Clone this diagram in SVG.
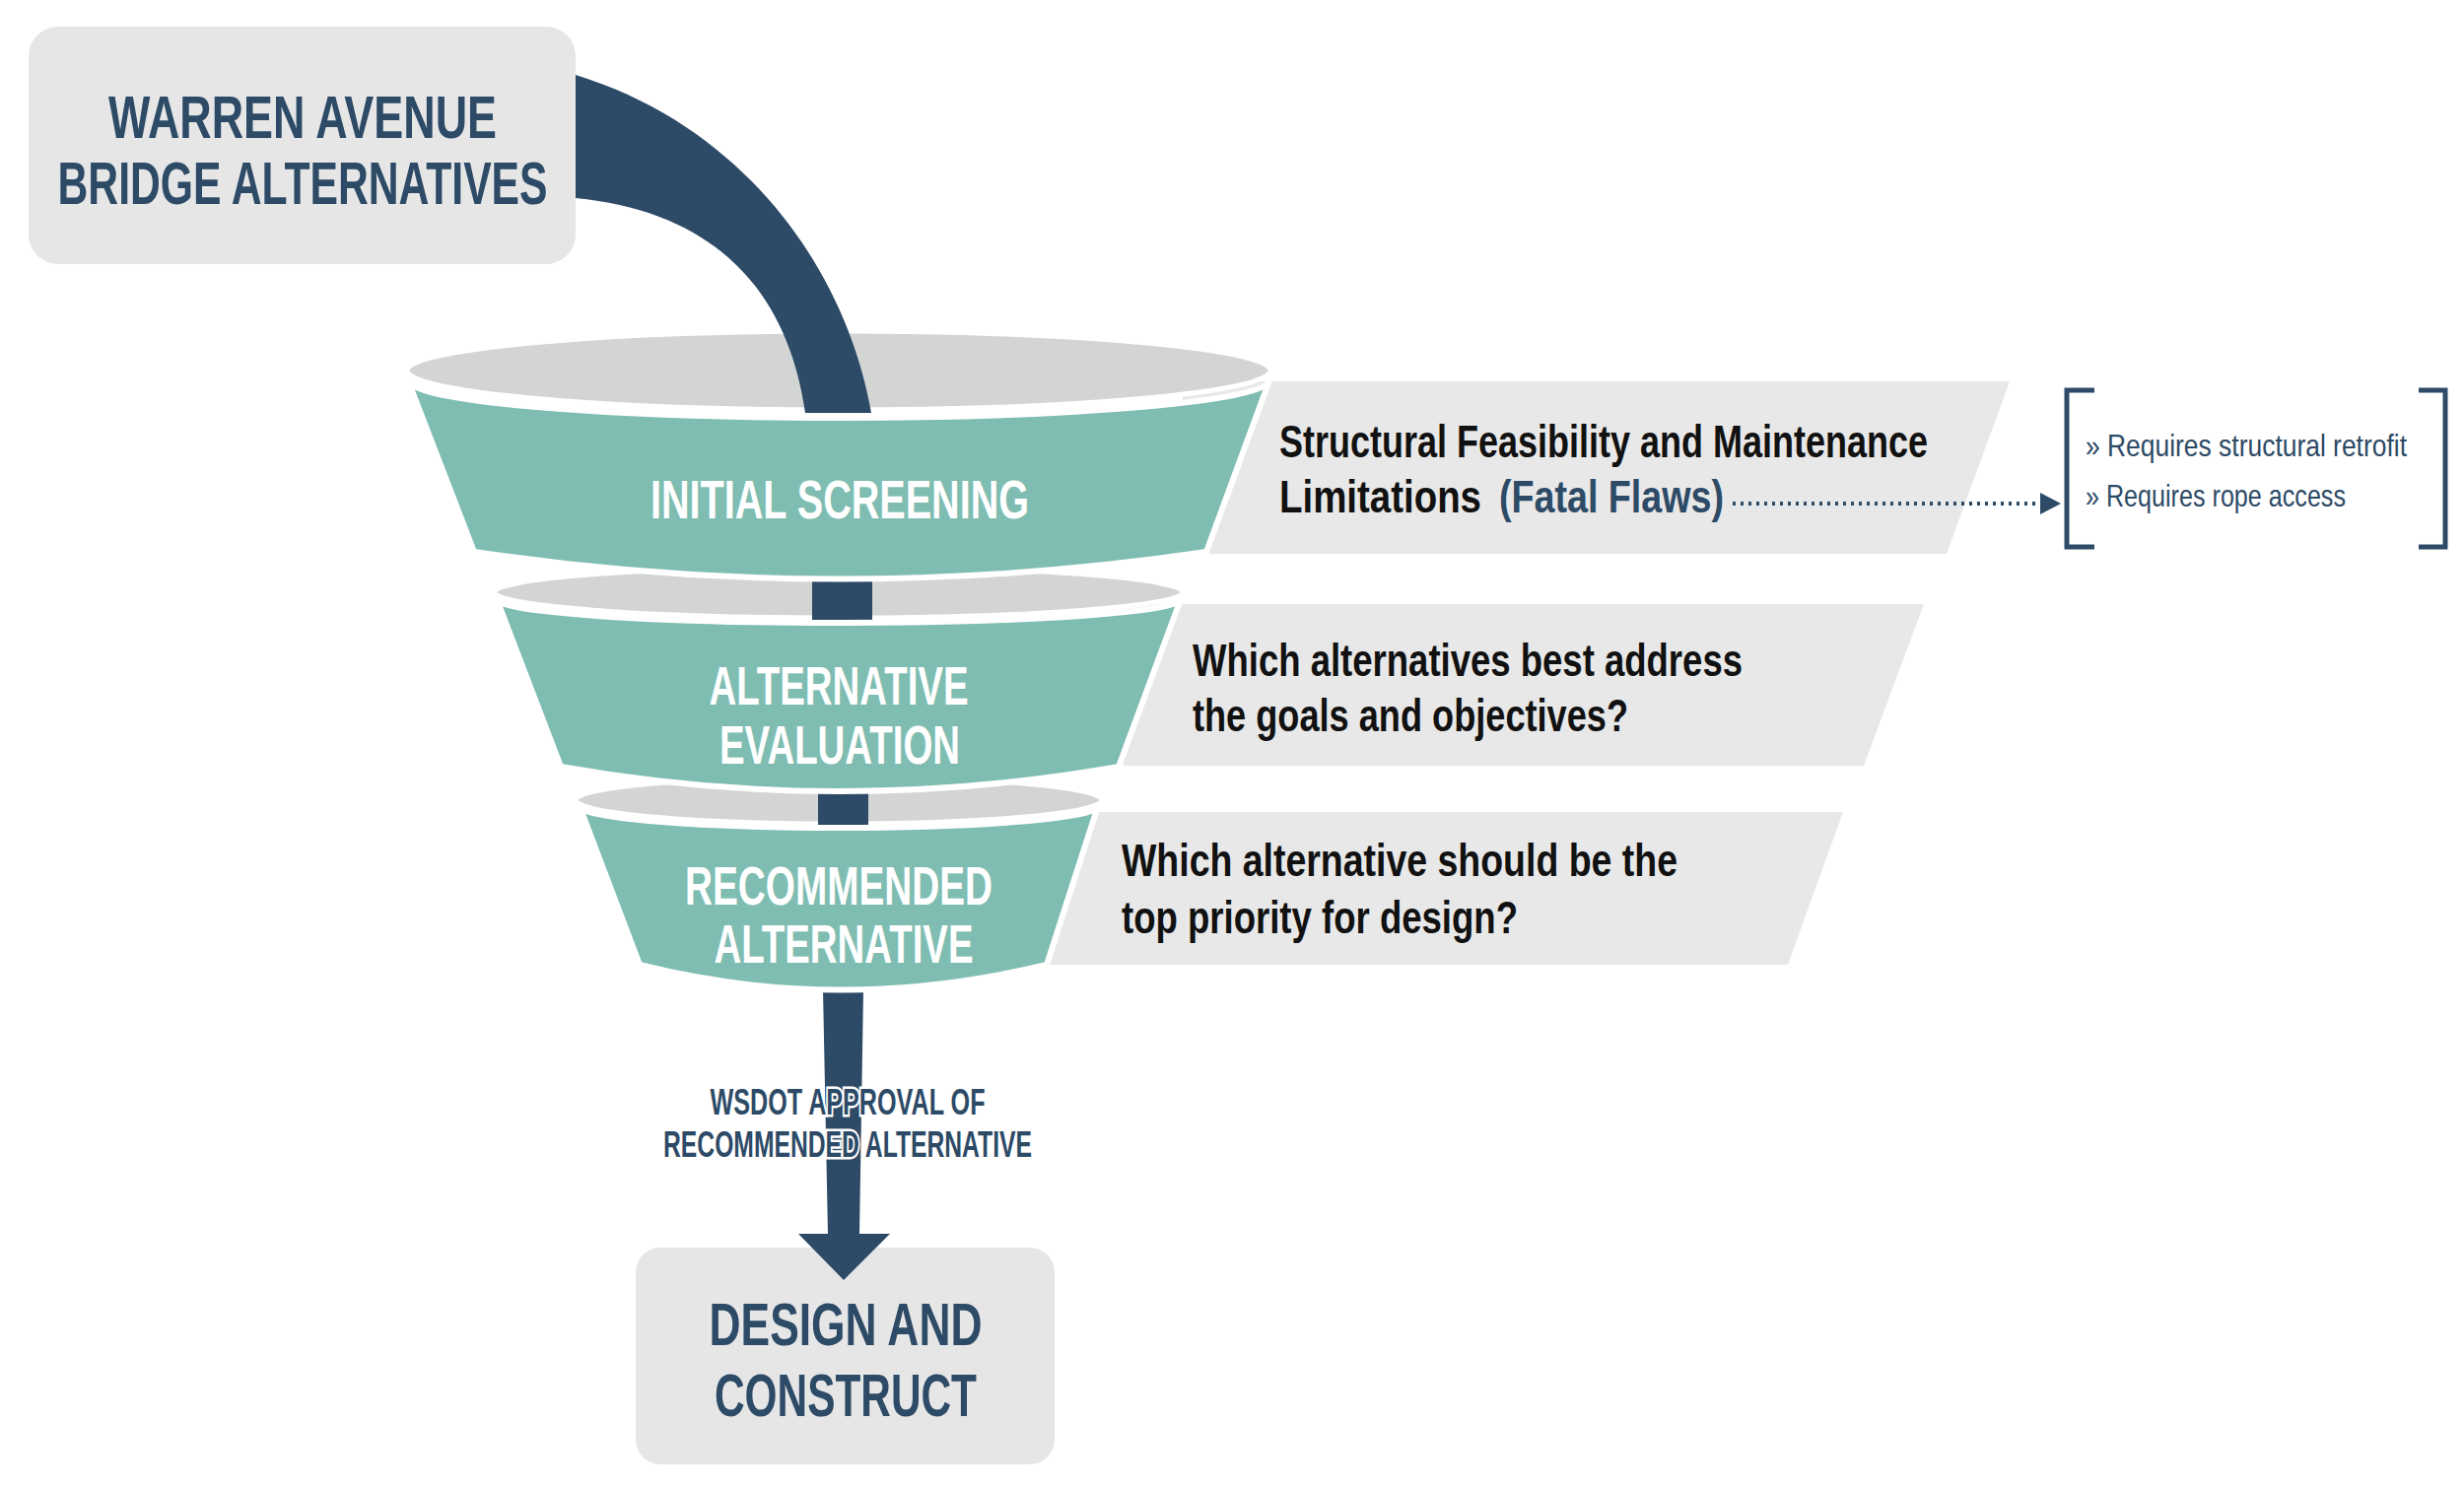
<svg xmlns="http://www.w3.org/2000/svg" width="2500" height="1511" viewBox="0 0 2500 1511">
<style>
.box{fill:#e6e6e7}
.band{fill:#e8e8e8}
.teal{fill:#7fbdb2;stroke:#fff;stroke-width:6}
.rim{fill:#d3d5d5;stroke:#fff;stroke-width:5}
.pipe{fill:#2d4a66}
.t{font-family:"Liberation Sans",Arial,sans-serif;font-weight:bold}
.hd{fill:#2d4a66;font-size:62px}
.wt{fill:#fff;font-size:56px}
.bk{fill:#111;font-size:46px}
.bl{fill:#2d4a66;font-size:32px;font-weight:normal}
.lb{fill:#2d4a66;font-size:36px;stroke:#fff;stroke-width:5;paint-order:stroke}
</style>
<rect width="2500" height="1511" fill="#fff"/>
<g id="bands">
<polygon class="band" points="1200,387 2039,387 1975,562 1200,562"/>
<polygon class="band" points="1140,613 1952,613 1891,777 1140,777"/>
<polygon class="band" points="1060,824 1870,824 1814,979 1060,979"/>
</g>
<g id="node-warren">
<rect class="box" x="29" y="27" width="555" height="241" rx="30"/>
<text class="t hd" x="307" y="140" text-anchor="middle" textLength="394" lengthAdjust="spacingAndGlyphs">WARREN AVENUE</text>
<text class="t hd" x="307" y="207" text-anchor="middle" textLength="497" lengthAdjust="spacingAndGlyphs">BRIDGE ALTERNATIVES</text>
</g>
<g id="node-design">
<rect class="box" x="645" y="1266" width="425" height="220" rx="25"/>
<text class="t hd" x="858" y="1365" text-anchor="middle" textLength="277" lengthAdjust="spacingAndGlyphs">DESIGN AND</text>
<text class="t hd" x="858" y="1437" text-anchor="middle" textLength="266" lengthAdjust="spacingAndGlyphs">CONSTRUCT</text>
</g>
<g id="connectors">
<polygon class="pipe" points="835,1004 876,1004 872,1252 903,1252 856,1299 810,1252 840,1252"/>
</g>
<g id="node-recommended">
<ellipse class="rim" cx="851" cy="812" rx="267" ry="24"/>
<rect class="pipe" x="830" y="800" width="51" height="50"/>
<path class="teal" d="M588,818 A263,22 0 0 0 1114,818 L1062,979 Q851,1030 649,979 Z"/>
<text class="t wt" x="851" y="918" text-anchor="middle" textLength="312" lengthAdjust="spacingAndGlyphs">RECOMMENDED</text>
<text class="t wt" x="856" y="977" text-anchor="middle" textLength="263" lengthAdjust="spacingAndGlyphs">ALTERNATIVE</text>
</g>
<g id="node-evaluation">
<ellipse class="rim" cx="851" cy="601" rx="349" ry="26"/>
<rect class="pipe" x="824" y="590" width="61" height="55"/>
<path class="teal" d="M504,608 A347,24 0 0 0 1198,608 L1135,778 Q851,828 569,778 Z"/>
<text class="t wt" x="851" y="715" text-anchor="middle" textLength="263" lengthAdjust="spacingAndGlyphs">ALTERNATIVE</text>
<text class="t wt" x="852" y="775" text-anchor="middle" textLength="244" lengthAdjust="spacingAndGlyphs">EVALUATION</text>
</g>
<g id="node-initial">
<ellipse class="rim" cx="851" cy="376" rx="438" ry="40"/>
<path class="pipe" d="M584,76 C760,130 860,280 884,419 L817,419 C800,300 730,215 584,201 Z"/>
<path class="teal" d="M414,386 A437,38 0 0 0 1288,386 L1224,560 Q851,615 481,560 Z"/>
<text class="t wt" x="852" y="526" text-anchor="middle" textLength="384" lengthAdjust="spacingAndGlyphs">INITIAL SCREENING</text>
</g>
<g id="labels">
<text class="t bk" x="1298" y="464" textLength="658" lengthAdjust="spacingAndGlyphs">Structural Feasibility and Maintenance</text>
<text class="t bk" x="1298" y="520" textLength="205" lengthAdjust="spacingAndGlyphs">Limitations</text>
<text class="t bk" x="1521" y="520" style="fill:#2d4a66" textLength="228" lengthAdjust="spacingAndGlyphs">(Fatal Flaws)</text>
<text class="t bk" x="1210" y="686" textLength="558" lengthAdjust="spacingAndGlyphs">Which alternatives best address</text>
<text class="t bk" x="1210" y="742" textLength="442" lengthAdjust="spacingAndGlyphs">the goals and objectives?</text>
<text class="t bk" x="1138" y="889" textLength="564" lengthAdjust="spacingAndGlyphs">Which alternative should be the</text>
<text class="t bk" x="1138" y="947" textLength="402" lengthAdjust="spacingAndGlyphs">top priority for design?</text>
<text class="t lb" x="860" y="1131" text-anchor="middle" textLength="279" lengthAdjust="spacingAndGlyphs">WSDOT APPROVAL OF</text>
<text class="t lb" x="860" y="1174" text-anchor="middle" textLength="374" lengthAdjust="spacingAndGlyphs">RECOMMENDED ALTERNATIVE</text>
</g>
<g id="fatal-arrow">
<line x1="1758" y1="511" x2="2072" y2="511" stroke="#2d4a66" stroke-width="4" stroke-dasharray="3 5"/>
<polygon points="2070,500 2091,511 2070,522" fill="#2d4a66"/>
</g>
<g id="node-bracket">
<path d="M2125,396 H2097 V555 H2125 M2454,396 H2481 V555 H2454" fill="none" stroke="#2d4a66" stroke-width="5"/>
<text class="t bl" x="2116" y="463" textLength="326" lengthAdjust="spacingAndGlyphs">» Requires structural retrofit</text>
<text class="t bl" x="2116" y="514" textLength="264" lengthAdjust="spacingAndGlyphs">» Requires rope access</text>
</g>
</svg>
